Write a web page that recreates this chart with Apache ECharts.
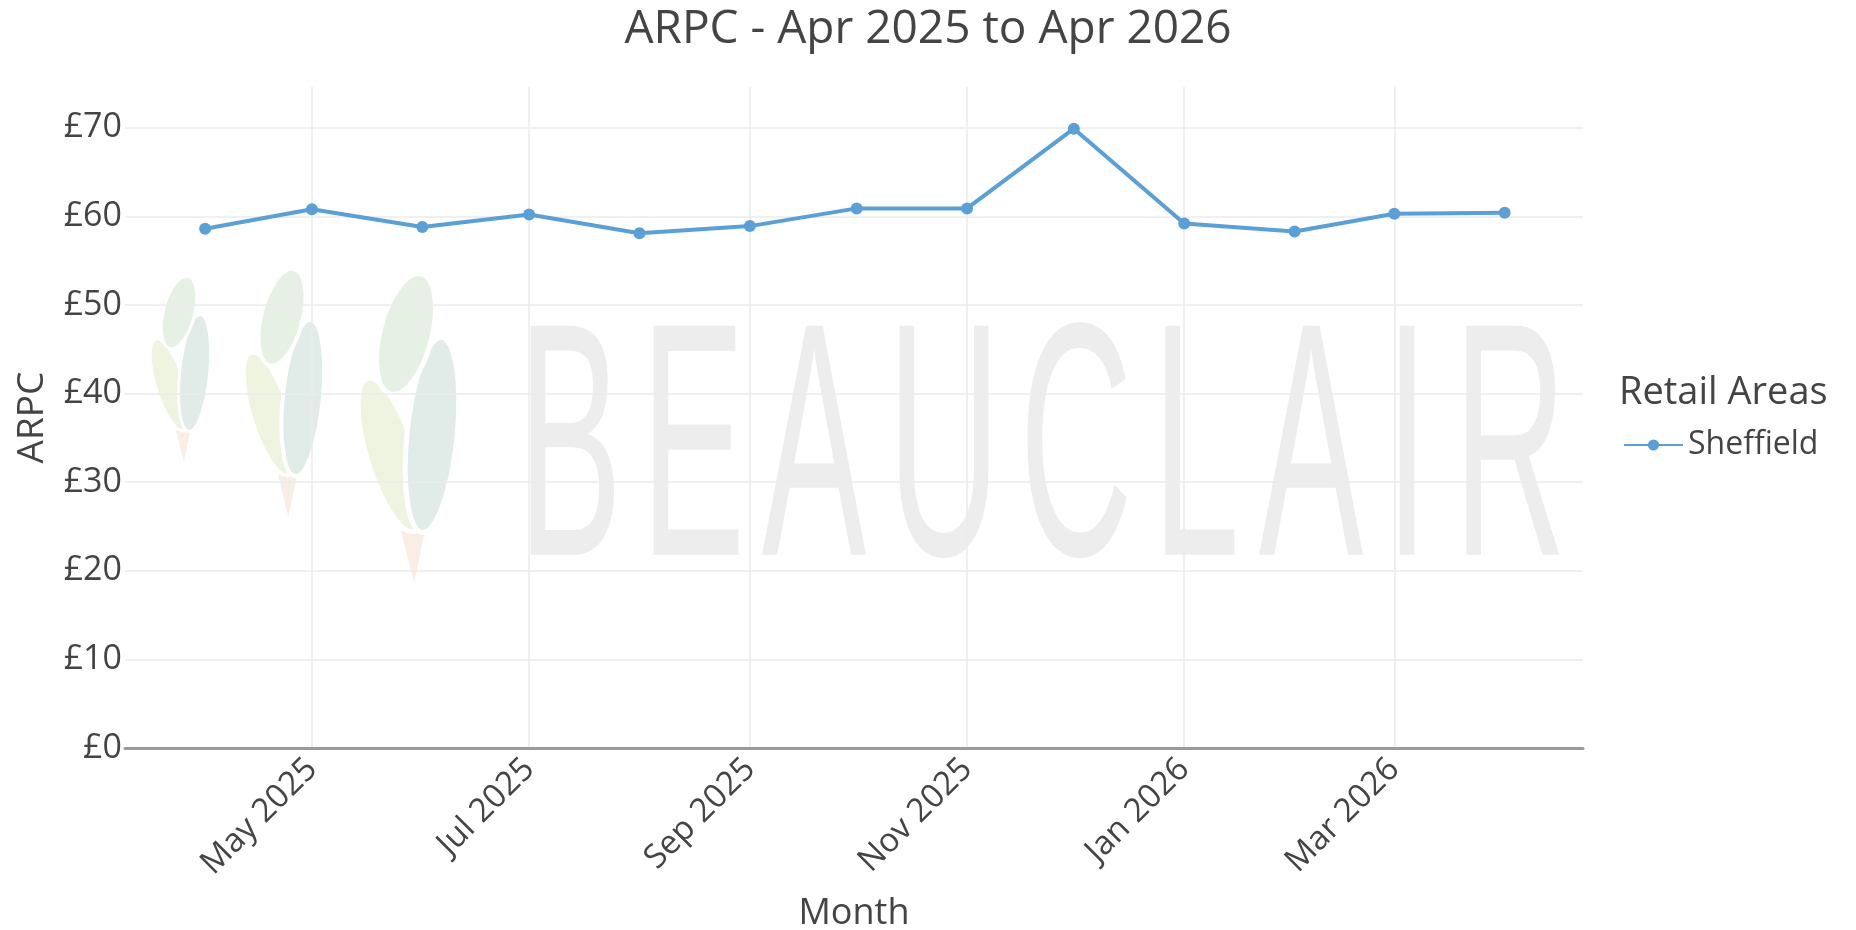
<!DOCTYPE html>
<html>
<head>
<meta charset="UTF-8">
<title>ARPC</title>
<script src="https://cdn.jsdelivr.net/npm/echarts@6/dist/echarts.min.js"></script>
<style>
html,body{margin:0;padding:0;background:#fff;}
#chart{width:1856px;height:930px;}
</style>
</head>
<body>
<div id="chart"></div>
<script>
// data
var months = ['2025-04-01','2025-05-01','2025-06-01','2025-07-01','2025-08-01','2025-09-01','2025-10-01',
              '2025-11-01','2025-12-01','2026-01-01','2026-02-01','2026-03-01','2026-04-01'];
var sheffield = [58.6, 60.8, 58.8, 60.2, 58.1, 58.9, 60.9, 60.9, 69.9, 59.2, 58.3, 60.3, 60.4];
var tickDates = ['2025-05-01','2025-07-01','2025-09-01','2025-11-01','2026-01-01','2026-03-01'];
var tickLabels = ['May 2025','Jul 2025','Sep 2025','Nov 2025','Jan 2026','Mar 2026'];

function ts(s){
  var p = s.split('-');
  return Date.UTC(+p[0], +p[1]-1, +p[2]);
}
var tickValues = tickDates.map(ts);
var seriesData = months.map(function(m,i){ return [ts(m), sheffield[i]]; });

var txt = '#444';
var font = '"Open Sans", sans-serif';

// watermark (background logo)
var wmLetters = [['B',570],['E',693],['A',814],['U',944],['C',1076],['L',1196],['A',1311],['I',1407],['R',1510]];
var wm = wmLetters.map(function(l){
  return {type:'text', x:l[1], y:463, z:-10, silent:true, scaleX:0.47,
    style:{text:l[0], fill:'#ededed', font:'normal 333px "Liberation Sans Narrow", sans-serif', align:'center', verticalAlign:'middle'}};
});
function leaf(x, y, s){
  return {type:'group', x:x, y:y, scaleX:s, scaleY:s, z:-10, silent:true, children:[
    {type:'polygon', shape:{points:[[-10,256],[14,256],[3,308]]}, style:{fill:'#f8eee4'}},
    {type:'ellipse', x:-20, y:180, rotation:0.3, shape:{cx:0,cy:0,rx:24,ry:80}, style:{fill:'#eff4e0', stroke:'#fff', lineWidth:5}},
    {type:'ellipse', x:21, y:160, rotation:-0.1, shape:{cx:0,cy:0,rx:25,ry:98}, style:{fill:'#e1ece8', stroke:'#fff', lineWidth:5}},
    {type:'ellipse', x:-5, y:59, rotation:-0.25, shape:{cx:0,cy:0,rx:26,ry:62}, style:{fill:'#e7f0e4', stroke:'#fff', lineWidth:5}}
  ]};
}
var graphics = wm.concat([leaf(182,277,0.6), leaf(286,270,0.8), leaf(411,275,1)]);
graphics.push({type:'text', left:1619, top:374, style:{text:'Retail Areas', fill:txt, font:'38px "Open Sans", sans-serif'}});

var chart = echarts.init(document.getElementById('chart'));
chart.setOption({
  backgroundColor:'#fff',
  animation:false,
  title:{text:'ARPC - Apr 2025 to Apr 2026', left:'center', top:2,
    textStyle:{color:txt, fontFamily:font, fontSize:46, fontWeight:'normal'}},
  graphic: graphics,
  legend:{left:1618, top:424, itemWidth:59, itemHeight:14, itemGap:10,
    textStyle:{color:txt, fontFamily:font, fontSize:32},
    data:['Sheffield']},
  grid:{left:125, right:273, top:87, bottom:182, containLabel:false, outerBoundsMode:'none'},
  xAxis:{
    type:'value',
    min: ts('2025-03-09') + 12*3600*1000,
    max: ts('2026-04-23'),
    name:'Month', nameLocation:'middle', nameGap:148,
    nameTextStyle:{color:txt, fontFamily:font, fontSize:36},
    axisLine:{show:true, onZero:false, lineStyle:{color:'#9a9a9a', width:3}},
    axisTick:{show:false, customValues:tickValues},
    axisLabel:{customValues:tickValues, rotate:45, margin:16, color:txt, fontFamily:font, fontSize:33,
      formatter:function(v){ var i = tickValues.indexOf(v); return i >= 0 ? tickLabels[i] : ''; }},
    splitLine:{show:true, lineStyle:{color:'#ebebeb', width:1.5}}
  },
  yAxis:{
    type:'value', min:0, max:74.6, interval:10,
    name:'ARPC', nameLocation:'middle', nameGap:74, nameRotate:90,
    nameTextStyle:{color:txt, fontFamily:font, fontSize:37},
    axisLine:{show:false}, axisTick:{show:false},
    axisLabel:{formatter:'£{value}', margin:3, color:txt, fontFamily:font, fontSize:34, showMaxLabel:false},
    splitLine:{show:true, showMaxLine:false, lineStyle:{color:'#ebebeb', width:1.5}}
  },
  series:[{
    name:'Sheffield', type:'line', data:seriesData,
    symbol:'circle', symbolSize:12, showSymbol:true,
    itemStyle:{color:'#5b9fd7'},
    lineStyle:{color:'#5b9fd7', width:4}
  }]
});
</script>
</body>
</html>
